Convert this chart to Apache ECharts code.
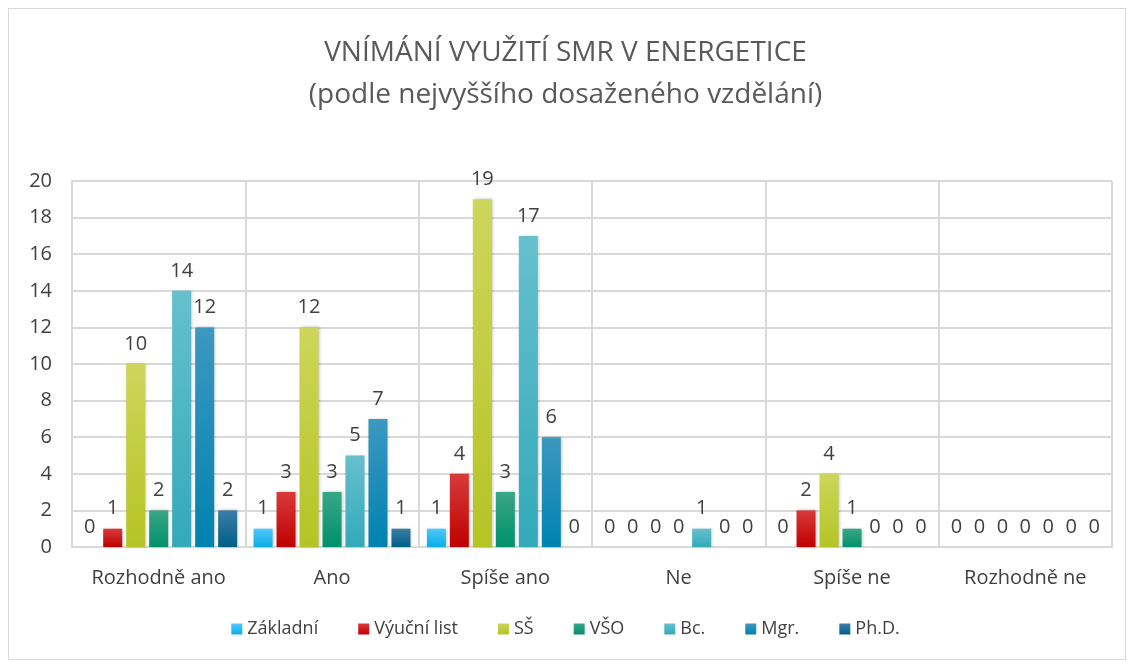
<!DOCTYPE html>
<html>
<head>
    <meta charset="utf-8">
    <title>Vnímání využití SMR v energetice</title>
    <script src="https://cdn.jsdelivr.net/npm/echarts@6/dist/echarts.min.js"></script>
    <style>
        body { margin: 0; background: #fff; }
        #frame { position: absolute; left: 8px; top: 8px; width: 1118px; height: 652px; border: 1px solid #d9d9d9; box-sizing: border-box; }
        #main { position: absolute; left: 0; top: 0; width: 1131px; height: 664px; }
    </style>
</head>
<body>
    <div id="frame"></div>
    <div id="main"></div>
    <script type="text/javascript">
        var categories = ['Rozhodně ano', 'Ano', 'Spíše ano', 'Ne', 'Spíše ne', 'Rozhodně ne'];
        var seriesNames = ['Základní', 'Výuční list', 'SŠ', 'VŠO', 'Bc.', 'Mgr.', 'Ph.D.'];
        var zakladni = [0, 1, 1, 0, 0, 0];
        var vyucniList = [1, 3, 4, 0, 2, 0];
        var ss = [10, 12, 19, 0, 4, 0];
        var vso = [2, 3, 3, 0, 1, 0];
        var bc = [14, 5, 17, 1, 0, 0];
        var mgr = [12, 7, 6, 0, 0, 0];
        var phd = [2, 1, 0, 0, 0, 0];
        var yTicks = [0, 2, 4, 6, 8, 10, 12, 14, 16, 18, 20];

        // barva nahoře světlejší, dole plná (jako v Excelu)
        var colors = [
            ['#4fc8f8', '#0aaeea'],
            ['#d83a3a', '#c00000'],
            ['#cdd65a', '#b5c424'],
            ['#3aa688', '#00916c'],
            ['#66c0cc', '#33a9ba'],
            ['#3d98c0', '#0082b0'],
            ['#3b7ea6', '#005e88']
        ];
        var allData = [zakladni, vyucniList, ss, vso, bc, mgr, phd];

        var myChart = echarts.init(document.getElementById('main'));
        var series = seriesNames.map(function (name, i) {
            return {
                name: name,
                type: 'bar',
                data: allData[i],
                barWidth: 19,
                barGap: '21%',
                itemStyle: {
                    color: new echarts.graphic.LinearGradient(0, 0, 0, 1, [
                        { offset: 0, color: colors[i][0] },
                        { offset: 1, color: colors[i][1] }
                    ]),
                    shadowColor: 'rgba(0,0,0,0.25)',
                    shadowBlur: 3,
                    shadowOffsetX: 1
                },
                label: {
                    show: true,
                    position: 'top',
                    distance: 10,
                    fontSize: 20,
                    color: '#404040',
                    fontFamily: 'Open Sans'
                }
            };
        });

        var option = {
            animation: false,
            title: {
                text: 'VNÍMÁNÍ VYUŽITÍ SMR V ENERGETICE\n(podle nejvyššího dosaženého vzdělání)',
                left: 'center',
                top: 27,
                textStyle: {
                    fontSize: 28,
                    fontWeight: 'normal',
                    color: '#595959',
                    lineHeight: 42,
                    fontFamily: 'Open Sans'
                }
            },
            legend: {
                data: seriesNames,
                bottom: 21,
                left: 'center',
                itemWidth: 11,
                itemHeight: 11,
                itemGap: 40,
                icon: 'rect',
                textStyle: { fontSize: 18, color: '#404040', fontFamily: 'Open Sans' }
            },
            grid: {
                left: 72,
                right: 19,
                top: 181,
                bottom: 117
            },
            xAxis: {
                type: 'category',
                data: categories,
                axisLine: { lineStyle: { color: '#d9d9d9', width: 2 } },
                axisTick: { show: false },
                splitLine: { show: true, interval: 0, lineStyle: { color: '#d9d9d9', width: 2 } },
                axisLabel: { interval: 0, fontSize: 20, color: '#404040', margin: 21, fontFamily: 'Open Sans' }
            },
            yAxis: {
                type: 'value',
                min: yTicks[0],
                max: yTicks[yTicks.length - 1],
                interval: 2,
                axisLine: { show: true, lineStyle: { color: '#d9d9d9', width: 2 } },
                axisTick: { show: false },
                splitLine: { lineStyle: { color: '#d9d9d9', width: 2 } },
                axisLabel: { fontSize: 20, color: '#404040', margin: 20, fontFamily: 'Open Sans' }
            },
            series: series
        };
        myChart.setOption(option);
    </script>
</body>
</html>
